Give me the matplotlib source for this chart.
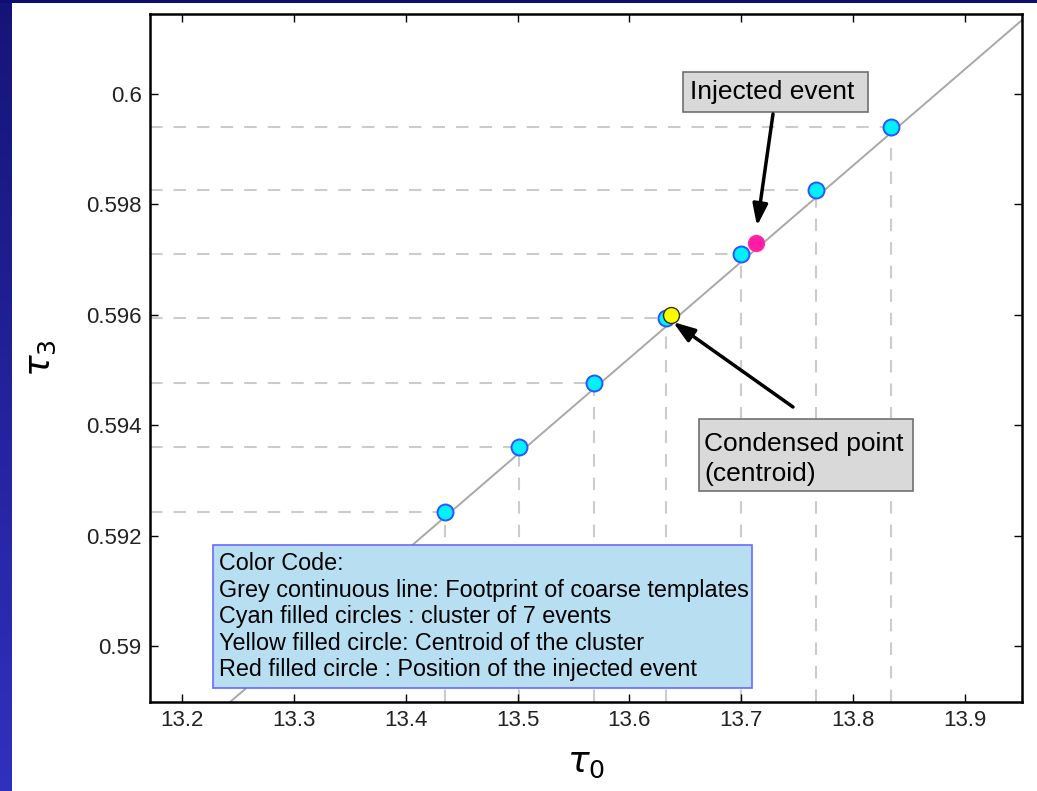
import numpy as np
import matplotlib
matplotlib.use("Agg")
import matplotlib.pyplot as plt
from matplotlib.patches import Rectangle

plt.rcParams['font.family'] = ['Liberation Sans', 'DejaVu Sans']
plt.rcParams['mathtext.fontset'] = 'dejavusans'

# cluster of 7 events (cyan)
tau0_cluster = [13.435, 13.501, 13.568, 13.633, 13.700, 13.767, 13.834]
tau3_cluster = [0.59243, 0.59361, 0.59476, 0.59594, 0.59710, 0.59826, 0.59940]
# centroid (yellow) and injected event (red)
tau0_centroid, tau3_centroid = 13.637, 0.59600
tau0_injected, tau3_injected = 13.713, 0.59730
# footprint of coarse templates (grey line)
tau0_line = [13.243, 13.951]
tau3_line = [0.58899, 0.60134]

xticks = [13.2, 13.3, 13.4, 13.5, 13.6, 13.7, 13.8, 13.9]
yticks = [0.59, 0.592, 0.594, 0.596, 0.598, 0.6]
ytick_labels = ["0.59", "0.592", "0.594", "0.596", "0.598", "0.6"]

legend_lines = [
    "Color Code:",
    "Grey continuous line: Footprint of coarse templates",
    "Cyan filled circles : cluster of 7 events",
    "Yellow filled circle: Centroid of the cluster",
    "Red filled circle : Position of the injected event",
]

W, H = 1037, 791
fig = plt.figure(figsize=(W / 100, H / 100), dpi=100)
fig.patch.set_facecolor("white")

# blue slide border (gradient strip on the left, thin strip on top)
strip = fig.add_axes([0, 0, 12 / W, 1])
grad = np.linspace(0, 1, 256).reshape(-1, 1)
cols = np.array([[0.08, 0.08, 0.47]]) * (1 - grad) + np.array([[0.19, 0.19, 0.75]]) * grad
strip.imshow(cols.reshape(256, 1, 3), aspect="auto", extent=[0, 1, 0, 1], origin="upper")
strip.axis("off")
top = fig.add_axes([0, 1 - 3 / H, 1, 3 / H])
top.set_facecolor("#0e0e70")
top.set_xticks([]); top.set_yticks([])
for s in top.spines.values():
    s.set_visible(False)

ax = fig.add_axes([150 / W, 1 - 702 / H, 872 / W, 688 / H])
ax.set_xlim(13.1714, 13.951)
ax.set_ylim(0.58899, 0.60145)

# dashed guides from each cluster point to the axes
dash = dict(ls=(0, (6, 5.3)), color="#cccccc", lw=1.5, zorder=1)
for x, y in zip(tau0_cluster, tau3_cluster):
    ax.plot([ax.get_xlim()[0], x], [y, y], **dash)
    ax.plot([x, x], [ax.get_ylim()[0], y], **dash)

ax.plot(tau0_line, tau3_line, color="#a8a8a8", lw=1.4, zorder=2)
ax.plot(tau0_cluster, tau3_cluster, "o", ms=11.5, mfc="#00f0ff", mec="#2a55ff", mew=1.4,
        ls="none", zorder=3)
ax.plot([tau0_centroid], [tau3_centroid], "o", ms=11.5, mfc="#ffff00", mec="#333300", mew=1.0, zorder=4)
ax.plot([tau0_injected], [tau3_injected], "o", ms=11.5, mfc="#ff1aa8", mec="#ff3399", mew=1.0, zorder=4)

ax.set_xticks(xticks)
ax.set_xticklabels([f"{v:.1f}" for v in xticks])
ax.set_yticks(yticks)
ax.set_yticklabels(ytick_labels)
ax.tick_params(direction="in", length=6, width=1, top=True, right=True, labelsize=16,
               pad=6, labelcolor="#222222")
for s in ax.spines.values():
    s.set_linewidth(1.8)

ax.set_xlabel(r"$\tau_0$", fontsize=26, labelpad=10)
ax.set_ylabel(r"$\tau_3$", fontsize=26, labelpad=20)


def px(x, y):
    # pixel position in figure -> axes fraction
    return (x - 150) / 872, (702 - y) / 688


def box(x0, y0, x1, y1, fc, ec):
    (ax0, ay1), (ax1, ay0) = px(x0, y0), px(x1, y1)
    ax.add_patch(Rectangle((ax0, ay0), ax1 - ax0, ay1 - ay0, transform=ax.transAxes,
                           facecolor=fc, edgecolor=ec, lw=1.2, zorder=5))


arrow = dict(arrowstyle="-|>,head_length=1.3,head_width=0.45", color="k",
             lw=2.5, shrinkA=0, shrinkB=0)

# annotation: injected event
box(683, 72, 868, 112, "#d9d9d9", "#707070")
ax.text(*px(690, 92), "Injected event", transform=ax.transAxes, fontsize=19,
        va="center", ha="left", zorder=6)
ax.annotate("", xy=px(757, 226), xytext=px(773, 114), xycoords="axes fraction",
            textcoords="axes fraction", arrowprops=arrow, zorder=6)

# annotation: centroid
box(699, 419, 913, 491, "#d9d9d9", "#707070")
ax.text(*px(704, 451), "Condensed point", transform=ax.transAxes, fontsize=19,
        va="baseline", ha="left", zorder=6)
ax.text(*px(704, 481), "(centroid)", transform=ax.transAxes, fontsize=19,
        va="baseline", ha="left", zorder=6)
ax.annotate("", xy=px(673, 322), xytext=px(793, 407), xycoords="axes fraction",
            textcoords="axes fraction", arrowprops=arrow, zorder=6)

# colour-code legend box
box(213, 545, 752, 688, "#b8def2", "#6a6aff")
for i, line in enumerate(legend_lines):
    ax.text(*px(219, 570 + 26.6 * i), line, transform=ax.transAxes, fontsize=16.8,
            va="baseline", ha="left", zorder=6)

fig.savefig("out.png", dpi=100)
